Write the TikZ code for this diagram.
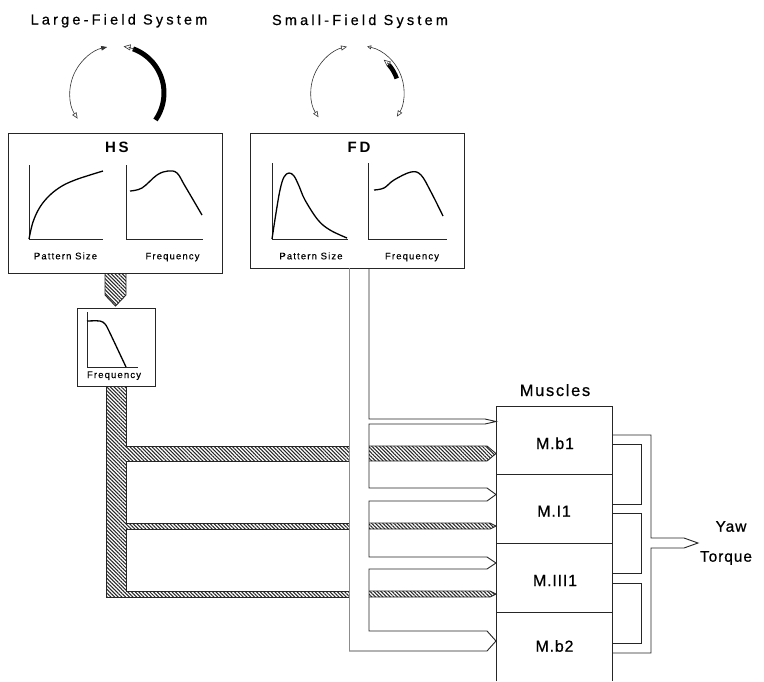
\documentclass[tikz,border=0pt]{standalone}
\usepackage{fontspec}
\setmainfont{Liberation Sans}
\newfontfamily\fTitle{Liberation Sans}[LetterSpace=22,FakeBold=0.6]
\newfontfamily\fHead{Liberation Sans}[LetterSpace=18]
\newfontfamily\fAx{Liberation Sans}[LetterSpace=12,FakeBold=0.4]
\newfontfamily\fMus{Liberation Sans}[LetterSpace=10,FakeBold=0.6]
\newfontfamily\fCell{Liberation Sans}[LetterSpace=5,FakeBold=0.6]
\newfontfamily\fYaw{Liberation Sans}[LetterSpace=6,FakeBold=0.6]
\usetikzlibrary{arrows.meta,patterns.meta}
\tikzset{
 ttl/.style={font=\fTitle\fontsize{14.5}{17}\selectfont, anchor=base, inner sep=0pt},
 hd/.style={font=\fHead\bfseries\fontsize{15}{18}\selectfont, anchor=base, inner sep=0pt},
 axl/.style={font=\fAx\fontsize{9.5}{11}\selectfont, anchor=base, inner sep=0pt},
 mus/.style={font=\fMus\fontsize{16.5}{19}\selectfont, anchor=base, inner sep=0pt},
 celltxt/.style={font=\fCell\fontsize{16}{19}\selectfont, anchor=base, inner sep=0pt},
 yawtxt/.style={font=\fYaw\fontsize{15.5}{18}\selectfont, anchor=base, inner sep=0pt},
 panel/.style={draw=black!85, line width=0.9pt, inner sep=0pt, anchor=north west},
 axisline/.style={line width=0.8pt, draw=black!85},
 curveline/.style={line width=1.3pt},
 hatch/.style={pattern={Lines[angle=-45,distance=2.6pt,line width=1.05pt]}, pattern color=black!85},
 pipe/.style={line width=0.9pt, draw=black!85},
 thinarc/.style={line width=0.6pt, draw=black!80},
}
\begin{document}
\begin{tikzpicture}[x=1pt,y=-1pt]
\fill[white] (0,0) rectangle (764,681);
\useasboundingbox (0,0) rectangle (764,681);

% titles
\node[ttl] (tL) at (119,24.5) {Large-Field System};
\node[ttl] (tS) at (360,25) {Small-Field System};

% large-field circular arrows
\coordinate (L) at (117,93);
\draw[thinarc, {Triangle[open,length=6pt,width=5pt]}-{Triangle[length=6pt,width=4.5pt]}]
  ([shift={(147:47)}]L) arc[start angle=147,end angle=258,radius=47];
\draw[line width=5pt] ([shift={(-70:47)}]L) arc[start angle=-70,end angle=35,radius=47];
\draw[thinarc, {Triangle[open,length=7pt,width=6pt]}-]
  ([shift={(-82:47)}]L) arc[start angle=-82,end angle=-68,radius=47];

% small-field circular arrows
\coordinate (S) at (357.5,92);
\draw[thinarc, {Triangle[open,length=6pt,width=5pt]}-{Triangle[open,length=6pt,width=5pt]}]
  ([shift={(147:46.5)}]S) arc[start angle=147,end angle=257,radius=46.5];
\draw[thinarc, {Triangle[open,length=4pt,width=4pt]}-{Triangle[open,length=6pt,width=5pt]}]
  ([shift={(-78:46.5)}]S) arc[start angle=-78,end angle=32,radius=46.5];
\draw[line width=4.5pt] ([shift={(-19:41.5)}]S) arc[start angle=-19,end angle=-41,radius=41.5];
\draw[thinarc, -{Triangle[open,length=7pt,width=6pt]}]
  ([shift={(-39:41.5)}]S) arc[start angle=-39,end angle=-51,radius=41.5];

% HS panel
\node[panel, minimum width=214pt, minimum height=140pt] (HS) at (8,133) {};
\node[hd] (HSt) at (117,152.7) {HS};
\draw[axisline] (29,165) -- (29,239) -- (103,239);
\draw[curveline] plot[smooth, tension=0.6] coordinates {(29,239) (33,222) (40,207) (50,195) (62,186) (75,180) (90,175) (103,171)};
\draw[axisline] (126,165) -- (126,239) -- (203,239);
\draw[curveline] plot[smooth, tension=0.6] coordinates {(130,191) (142,188) (157,175) (168,171) (177,173) (185,186) (202,215)};
\node[axl] (HSa) at (65.5,259.3) {Pattern Size};
\node[axl] (HSb) at (172.5,259.3) {Frequency};

% FD panel
\node[panel, minimum width=214pt, minimum height=135pt] (FD) at (250,133) {};
\node[hd] (FDt) at (359,152.7) {FD};
\draw[axisline] (272,163) -- (272,239) -- (348,239);
\draw[curveline] plot[smooth, tension=0.6] coordinates {(272,239) (276,213) (280,190) (284,177) (289,173) (294,176) (299,186) (305,200) (318,220) (330,230) (347,238)};
\draw[axisline] (368,163) -- (368,239) -- (447,239);
\draw[curveline] plot[smooth, tension=0.6] coordinates {(374,190) (384,188) (394,180) (411,172) (421,175) (431,192) (443,216)};
\node[axl] (FDa) at (311,259.3) {Pattern Size};
\node[axl] (FDb) at (412,259.3) {Frequency};

% filter panel
\node[panel, minimum width=78pt, minimum height=78pt] (FB) at (77,308) {};
\draw[axisline] (87,312) -- (87,367) -- (138,367);
\draw[curveline] plot[smooth, tension=0.5] coordinates {(87,321) (100,321) (105,324) (109,331) (126,367)};
\node[axl] (FBa) at (114,378) {Frequency};

% hatched (large-field) pathway
\filldraw[hatch, pipe] (105,273) -- (105,295) -- (115.5,306) -- (126,295) -- (126,273);
\filldraw[hatch, pipe] (106,386) -- (106,597) -- (349,597) -- (349,591) -- (126,591) -- (126,529) -- (349,529) -- (349,523) -- (126,523) -- (126,461) -- (349,461) -- (349,446) -- (126,446) -- (126,386);
\filldraw[hatch, pipe] (369,446) -- (487,446) -- (496,453.5) -- (487,461) -- (369,461);
\filldraw[hatch, pipe] (369,523) -- (490,523) -- (496,526) -- (490,529) -- (369,529);
\filldraw[hatch, pipe] (369,591) -- (490,591) -- (496,594) -- (490,597) -- (369,597);

% white (small-field) pathway
\draw[pipe] (369,268) -- (369,419) -- (485,419) -- (496,421.5) -- (485,424) -- (369,424)
  -- (369,488) -- (487,488) -- (496,494.5) -- (487,501) -- (369,501)
  -- (369,557) -- (487,557) -- (496,563) -- (487,569) -- (369,569)
  -- (369,631) -- (487,631) -- (496,641) -- (487,651) -- (349,651);
\draw[pipe, draw=black!45] (349,651) -- (349,268);

% muscles
\node[mus] (mus) at (555,396) {Muscles};
\node[panel, minimum width=116pt, minimum height=68pt] (mb1) at (496,406) {};
\node[panel, minimum width=116pt, minimum height=69pt] (mi1) at (496,474) {};
\node[panel, minimum width=116pt, minimum height=69pt] (miii1) at (496,543) {};
\node[inner sep=0pt, minimum width=116pt, minimum height=69pt, anchor=north west] (mb2) at (496,612) {};
\draw[pipe] (mb2.south west) -- (mb2.north west) -- (mb2.north east) -- (mb2.south east);
\node[celltxt] (tmb1) at (555,449) {M.b1};
\node[celltxt] (tmi1) at (554,516.7) {M.I1};
\node[celltxt] (tmiii1) at (555,586) {M.III1};
\node[celltxt] (tmb2) at (554.5,651.7) {M.b2};

% output pipe
\draw[pipe] (612,435) -- (651,435) -- (651,538) -- (684,538) -- (698,543) -- (684,548) -- (651,548) -- (651,653) -- (612,653);
\draw[pipe] (612,444) -- (641,444) -- (641,504) -- (612,504);
\draw[pipe] (612,513) -- (641,513) -- (641,573) -- (612,573);
\draw[pipe] (612,583) -- (641,583) -- (641,643) -- (612,643);
\node[yawtxt] (yaw) at (731,531.7) {Yaw};
\node[yawtxt] (torque) at (726,561.7) {Torque};
\end{tikzpicture}
\end{document}
